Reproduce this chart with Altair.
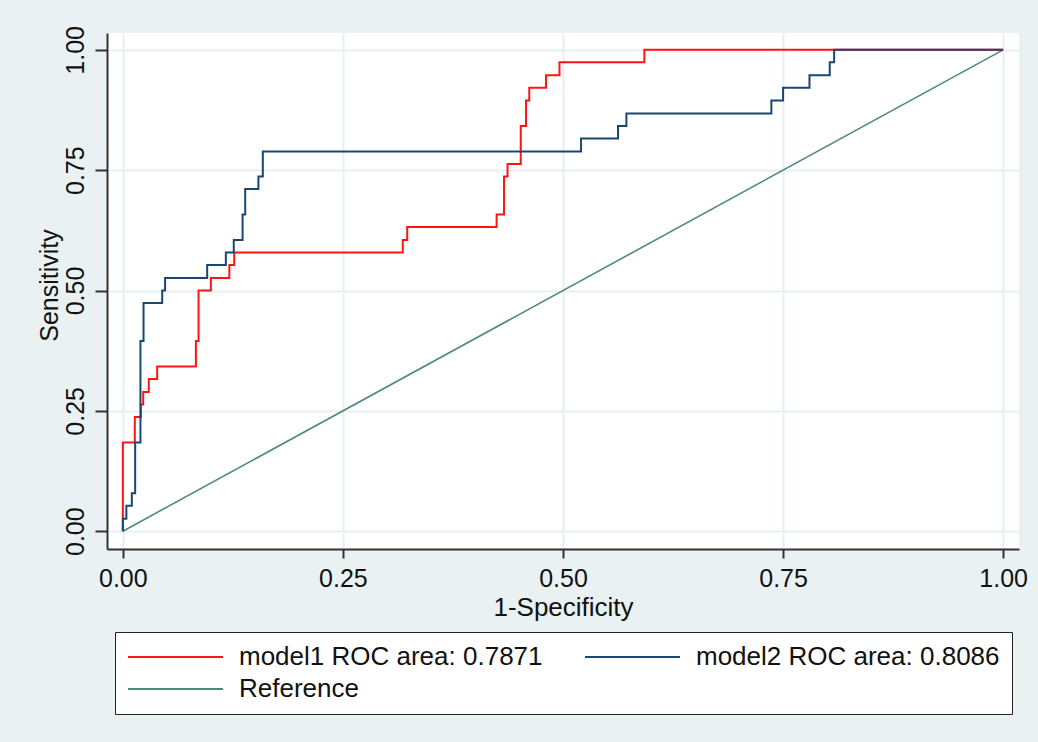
import altair as alt
import pandas as pd

# ROC operating points: 1-specificity (false-positive rate) and sensitivity
model1_fpr = [0.0, 0.0, 0.0136, 0.0205, 0.0231, 0.0295, 0.039, 0.083, 0.086, 0.100,
              0.121, 0.1265, 0.318, 0.323, 0.4246, 0.433, 0.437, 0.452, 0.458, 0.4617,
              0.4807, 0.496, 0.5924, 1.0]
model1_sens = [0.0, 0.184, 0.237, 0.263, 0.289, 0.316, 0.342, 0.395, 0.5, 0.526,
               0.553, 0.579, 0.605, 0.632, 0.658, 0.737, 0.763, 0.842, 0.895, 0.921,
               0.947, 0.974, 1.0, 1.0]

model2_fpr = [0.0, 0.0, 0.004, 0.0102, 0.014, 0.020, 0.0235, 0.0447, 0.048, 0.0958,
              0.117, 0.126, 0.136, 0.139, 0.154, 0.159, 0.5205, 0.5625, 0.572, 0.7367,
              0.75, 0.78, 0.803, 0.808, 1.0]
model2_sens = [0.0, 0.026, 0.053, 0.079, 0.184, 0.395, 0.474, 0.5, 0.526, 0.553,
               0.579, 0.605, 0.658, 0.711, 0.737, 0.789, 0.816, 0.842, 0.868, 0.895,
               0.921, 0.947, 0.974, 1.0, 1.0]

reference_fpr = [0.0, 1.0]
reference_sens = [0.0, 1.0]

series_names = ["model1 ROC area: 0.7871", "model2 ROC area: 0.8086", "Reference"]
series_colors = ["#ff1414", "#1a476f", "#4f8a7c"]
axis_ticks = [0.0, 0.25, 0.5, 0.75, 1.0]


def frame(name, fpr, sens):
    return pd.DataFrame({"series": name, "fpr": fpr, "sens": sens,
                         "step": list(range(len(fpr)))})


df = pd.concat([
    frame(series_names[0], model1_fpr, model1_sens),
    frame(series_names[1], model2_fpr, model2_sens),
    frame(series_names[2], reference_fpr, reference_sens),
], ignore_index=True)

FONT = "Liberation Sans"
INK = "#111111"
AXIS_INK = "#333333"
GRID = "#e6eff1"

x_enc = alt.X(
    "fpr:Q",
    title="1-Specificity",
    scale=alt.Scale(domain=[-0.018, 1.018], nice=False, zero=False),
    axis=alt.Axis(
        values=axis_ticks, format=".2f", labelFlush=False, labelOverlap=False,
        tickSize=9, tickWidth=2, tickColor=AXIS_INK,
        domainColor=AXIS_INK, domainWidth=2,
        grid=True, gridColor=GRID, gridWidth=2,
        labelFont=FONT, labelFontSize=25, labelColor=INK, labelPadding=8,
        titleFont=FONT, titleFontSize=26, titleFontWeight="normal", titleColor=INK,
        titleY=66, titleBaseline="alphabetic",
    ),
)

y_enc = alt.Y(
    "sens:Q",
    title="Sensitivity",
    scale=alt.Scale(domain=[-0.037, 1.035], nice=False, zero=False),
    axis=alt.Axis(
        values=axis_ticks, format=".2f", labelFlush=False, labelOverlap=False,
        tickSize=12, tickWidth=2, tickColor=AXIS_INK,
        domainColor=AXIS_INK, domainWidth=2,
        grid=True, gridColor=GRID, gridWidth=2,
        labelFont=FONT, labelFontSize=25, labelColor=INK, labelPadding=12,
        labelAngle=270, labelAlign="center", labelBaseline="alphabetic",
        titleFont=FONT, titleFontSize=25, titleFontWeight="normal", titleColor=INK,
        titleAngle=270, titleAlign="center", titleBaseline="alphabetic",
        titleX=-50, titleY=252,
    ),
)

color_enc = alt.Color(
    "series:N",
    scale=alt.Scale(domain=series_names, range=series_colors),
    legend=alt.Legend(
        title=None, orient="none", legendX=8, legendY=599,
        direction="horizontal", columns=2, columnPadding=41, rowPadding=6,
        symbolType="stroke", symbolSize=9025, symbolStrokeWidth=2,
        clipHeight=26, labelOffset=15, labelLimit=600,
        labelFont=FONT, labelFontSize=26, labelColor=INK,
        padding=12, strokeColor="#222222", fillColor="white",
    ),
)

base = alt.Chart(df)

reference_line = base.transform_filter(
    alt.datum.series == series_names[2]
).mark_line(strokeWidth=1.6).encode(
    x=x_enc, y=y_enc, color=color_enc, order="step:Q"
)

model1_line = base.transform_filter(
    alt.datum.series == series_names[0]
).mark_line(strokeWidth=2, interpolate="step-after").encode(
    x=x_enc, y=y_enc, color=color_enc, order="step:Q"
)

model2_line = base.transform_filter(
    alt.datum.series == series_names[1]
).mark_line(strokeWidth=2, interpolate="step-after").encode(
    x=x_enc, y=y_enc, color=color_enc, order="step:Q"
)

chart = alt.layer(reference_line, model1_line, model2_line).properties(
    width=912,
    height=516,
    autosize=alt.AutoSizeParams(type="none"),
    padding={"left": 107, "top": 33, "right": 19, "bottom": 193},
).configure(
    background="#e9f1f3",
).configure_view(
    fill="white", strokeWidth=0
)

chart.save("out.html", embed_options={"renderer": "svg", "actions": False})
